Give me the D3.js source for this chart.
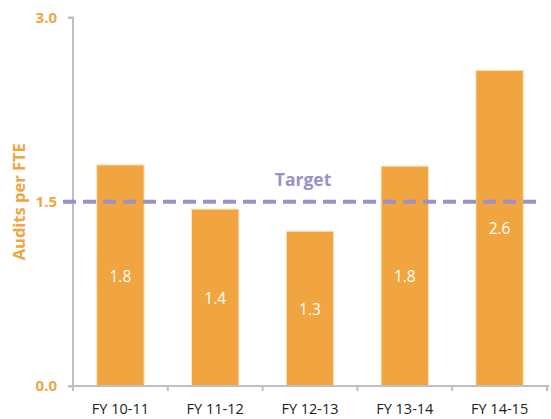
<!DOCTYPE html>
<html>
<head>
<meta charset="utf-8">
<script src="https://cdn.jsdelivr.net/npm/d3@7"></script>
<style>
  html, body { margin: 0; padding: 0; background: #fff; }
  svg { display: block; font-family: "Open Sans", "Liberation Sans", sans-serif; }
</style>
</head>
<body>
<svg id="chart" width="551" height="419"></svg>
<script>
// Audits per FTE by fiscal year, with the target level
const categories = ["FY 10-11", "FY 11-12", "FY 12-13", "FY 13-14", "FY 14-15"];
const auditsPerFte = [1.80, 1.44, 1.26, 1.79, 2.57];
const targetValue = 1.5;
const yTicks = [0, 1.5, 3.0];

const orange = "#f0a540";
const purple = "#9b91c8";
const axisGrey = "#bfbfbf";

const svg = d3.select("#chart");
const margin = { left: 73, right: 4, top: 17.5, bottom: 33 };

const x = d3.scaleBand()
  .domain(categories)
  .range([margin.left, 547])
  .paddingInner(0.5)
  .paddingOuter(0.25);

const y = d3.scaleLinear()
  .domain([0, 3])
  .range([386, margin.top]);

// Bars
svg.append("g").selectAll("rect")
  .data(auditsPerFte)
  .join("rect")
  .attr("x", (d, i) => x(categories[i]))
  .attr("y", d => y(d))
  .attr("width", x.bandwidth())
  .attr("height", d => y(0) - y(d))
  .attr("fill", orange)
  .attr("stroke", "#fde3c0")
  .attr("stroke-width", 1);

// Value labels, centred inside each bar
const fmt = d3.format(".1f");
svg.append("g").selectAll("text")
  .data(auditsPerFte)
  .join("text")
  .attr("x", (d, i) => x(categories[i]) + x.bandwidth() / 2)
  .attr("y", d => (y(d) + y(0)) / 2)
  .attr("dy", "0.4em")
  .attr("text-anchor", "middle")
  .attr("fill", "#fff")
  .attr("font-size", 15.5)
  .text(d => fmt(d));

// Y axis
const yAxis = svg.append("g")
  .attr("transform", `translate(${margin.left},0)`)
  .call(d3.axisLeft(y).tickValues(yTicks).tickFormat(d3.format(".1f")).tickSize(5).tickPadding(11));
yAxis.select(".domain").attr("stroke", axisGrey).attr("stroke-width", 2)
  .attr("d", `M-5,${y(3)}H0V${y(0)}`);
yAxis.selectAll(".tick line").attr("stroke", axisGrey).attr("stroke-width", 2);
yAxis.selectAll(".tick text")
  .attr("fill", orange)
  .attr("font-size", 15)
  .attr("font-weight", "bold")
  .attr("font-family", "Open Sans, Liberation Sans, sans-serif");

// X axis
const xEdges = categories.map(c => x(c) - x.step() * x.paddingInner() / 2);
xEdges.push(547);
const xAxis = svg.append("g")
  .attr("transform", `translate(0,${y(0)})`)
  .call(d3.axisBottom(x).tickSize(0).tickPadding(18));
xAxis.select(".domain").attr("stroke", axisGrey).attr("stroke-width", 2)
  .attr("d", `M${margin.left - 5},0H${549}`);
xAxis.selectAll(".tick text")
  .attr("fill", "#222")
  .attr("font-size", 14.5)
  .attr("font-family", "Open Sans, Liberation Sans, sans-serif");
xAxis.append("g").selectAll("line")
  .data(xEdges)
  .join("line")
  .attr("x1", d => d).attr("x2", d => d)
  .attr("y1", 0).attr("y2", 5)
  .attr("stroke", axisGrey).attr("stroke-width", 2);

// Target line
svg.append("line")
  .attr("x1", 63).attr("x2", 538)
  .attr("y1", y(targetValue)).attr("y2", y(targetValue))
  .attr("stroke", purple)
  .attr("stroke-width", 4)
  .attr("stroke-dasharray", "13,7");

svg.append("text")
  .attr("x", 303)
  .attr("y", 186)
  .attr("text-anchor", "middle")
  .attr("fill", purple)
  .attr("font-size", 17.5)
  .attr("font-weight", "bold")
  .text("Target");

// Y axis title
svg.append("text")
  .attr("transform", `translate(25,${(y(0) + y(3)) / 2}) rotate(-90)`)
  .attr("text-anchor", "middle")
  .attr("fill", orange)
  .attr("font-size", 16.5)
  .attr("font-weight", "bold")
  .text("Audits per FTE");
</script>
</body>
</html>
